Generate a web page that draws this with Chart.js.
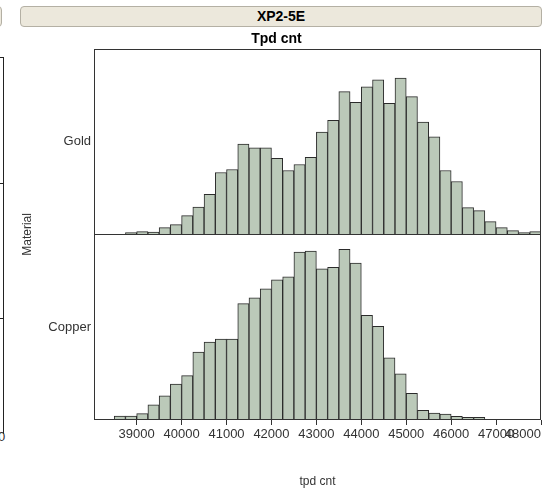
<!DOCTYPE html>
<html>
<head>
<meta charset="utf-8">
<script src="https://cdn.jsdelivr.net/npm/chart.js@4.4.1/dist/chart.umd.min.js"></script>
<style>
html,body{margin:0;padding:0;background:#fff;}
#wrap{position:relative;width:544px;height:490px;overflow:hidden;font-family:"Liberation Sans",Arial,sans-serif;}
#strip{position:absolute;left:20px;top:6px;width:520px;height:19px;background:#ece8dc;border:1px solid #b4b0a4;border-radius:4px;text-align:center;font-weight:bold;font-size:14px;line-height:19px;color:#000;}
#nstrip{position:absolute;left:-12px;top:6px;width:12px;height:19px;background:#ece8dc;border:1px solid #b4b0a4;border-radius:4px;}
#nframe{position:absolute;left:-20px;top:57px;width:23px;height:376px;border-top:1px solid #222;border-right:1px solid #222;}
.ntick{position:absolute;left:0;width:3px;height:1px;background:#222;}
#nzero{position:absolute;left:-2px;top:429px;font-size:13px;color:#333;}
canvas{position:absolute;left:0;top:0;}
</style>
</head>
<body>
<div id="wrap">
  <div id="nstrip"></div>
  <div id="strip">XP2-5E</div>
  <div id="nframe"></div>
  <div class="ntick" style="top:183px"></div>
  <div class="ntick" style="top:318px"></div>
  <div id="nzero">0</div>
  <canvas id="c" width="544" height="490"></canvas>
</div>
<script>
const binStarts = [38500, 38750, 39000, 39250, 39500, 39750, 40000, 40250, 40500, 40750,
                   41000, 41250, 41500, 41750, 42000, 42250, 42500, 42750, 43000, 43250,
                   43500, 43750, 44000, 44250, 44500, 44750, 45000, 45250, 45500, 45750,
                   46000, 46250, 46500, 46750, 47000, 47250, 47500, 47750];
const binWidth = 250;
const categories = ['Gold', 'Copper'];
const goldCounts = [0, 1.7, 2.7, 2.3, 6.7, 9.7, 18.7, 27.3, 40, 61.7,
                    64.7, 90, 86.3, 86.3, 75.7, 63.7, 69.7, 76.7, 102, 113.7,
                    142.3, 131.7, 147, 154, 130.7, 155.7, 137.3, 112, 97.3, 63.7,
                    52.7, 26.7, 23.7, 12.7, 6.7, 3.7, 1.7, 2.7];
const copperCounts = [4, 4, 6.3, 15, 24, 35.7, 44.3, 67.7, 77.7, 80.7,
                      80.7, 116, 121.7, 130.7, 139.7, 142.7, 167.3, 168.3, 150.7, 152.3,
                      170, 156.3, 104.3, 93.3, 62, 46, 26.7, 9.7, 7, 6,
                      3.7, 2.7, 2.7, 0, 0, 0, 0, 0];
const tickValues = [39000, 40000, 41000, 42000, 43000, 44000, 45000, 46000, 47000, 48000];
const chartTitle = 'Tpd cnt';
const xTitle = 'tpd cnt';
const yTitle = 'Material';

const X_MIN = 38050, X_MAX = 48000, Y_MAX = 185;
const FILL = '#bbc9b9', EDGE = '#2b2b2b', INK = '#333';

Chart.defaults.font.family = '"Liberation Sans", Arial, sans-serif';

const framePlugin = {
  id: 'frame',
  afterDatasetsDraw(chart) {
    const {ctx, chartArea: a, scales} = chart;
    ctx.save();
    ctx.strokeStyle = INK;
    ctx.lineWidth = 1;
    ctx.strokeRect(Math.round(a.left) + 0.5, Math.round(a.top) + 0.5,
                   Math.round(a.right - a.left) - 1, Math.round(a.bottom - a.top) - 1);
    const yd = Math.round(scales.yGold.bottom) + 0.5;
    ctx.beginPath();
    ctx.moveTo(a.left, yd);
    ctx.lineTo(a.right, yd);
    ctx.stroke();
    ctx.fillStyle = INK;
    ctx.font = '12px "Liberation Sans", Arial, sans-serif';
    ctx.translate(28, (a.top + a.bottom) / 2);
    ctx.rotate(-Math.PI / 2);
    ctx.textAlign = 'center';
    ctx.textBaseline = 'middle';
    ctx.fillText(yTitle, 0, 0);
    ctx.restore();
  }
};

function makeData(values) {
  return binStarts.map((b, i) => ({x: b + binWidth / 2, y: values[i]}));
}

function panelAxis(idx, weight) {
  return {
    type: 'linear', position: 'left', stack: 'panels', stackWeight: 1, weight: weight,
    min: 0, max: Y_MAX,
    grid: {display: false, drawTicks: false, tickLength: 0},
    border: {display: false},
    afterBuildTicks: s => { s.ticks = [{value: Y_MAX / 2}]; },
    ticks: {callback: () => categories[idx], padding: 3, color: INK, font: {size: 13}},
    afterFit: s => { s.width = 82; }
  };
}

const dsCommon = {
  backgroundColor: FILL, borderColor: EDGE, borderWidth: 1,
  barPercentage: 1, categoryPercentage: 1, grouped: false, xAxisID: 'x'
};

new Chart(document.getElementById('c'), {
  type: 'bar',
  data: {
    datasets: [
      Object.assign({label: categories[0], data: makeData(goldCounts), yAxisID: 'yGold'}, dsCommon),
      Object.assign({label: categories[1], data: makeData(copperCounts), yAxisID: 'yCopper'}, dsCommon)
    ]
  },
  options: {
    responsive: false,
    animation: false,
    layout: {padding: {left: 12, right: 3, top: 31, bottom: 0}},
    plugins: {
      legend: {display: false},
      tooltip: {enabled: false},
      title: {display: true, text: chartTitle, color: '#000',
              font: {size: 14, weight: 'bold'}, padding: {top: 0, bottom: 1}}
    },
    scales: {
      x: {
        type: 'linear', min: X_MIN, max: X_MAX, offset: false,
        afterBuildTicks: s => { s.ticks = [X_MIN].concat(tickValues).map(v => ({value: v})); },
        grid: {display: true, drawOnChartArea: false, drawTicks: true, tickLength: 5, offset: false,
               tickColor: c => (c.tick && tickValues.includes(c.tick.value)) ? INK : 'rgba(0,0,0,0)'},
        border: {display: false},
        ticks: {autoSkip: false, maxRotation: 0, minRotation: 0, align: 'inner', padding: 2,
                color: INK, font: {size: 13},
                callback: v => tickValues.includes(v) ? String(v) : ''},
        title: {display: true, text: xTitle, color: INK, font: {size: 12}, padding: {top: 0, bottom: 1}},
        afterFit: s => { s.height = 70; }
      },
      yCopper: panelAxis(1, 1),
      yGold: panelAxis(0, 2)
    }
  },
  plugins: [framePlugin]
});
</script>
</body>
</html>
